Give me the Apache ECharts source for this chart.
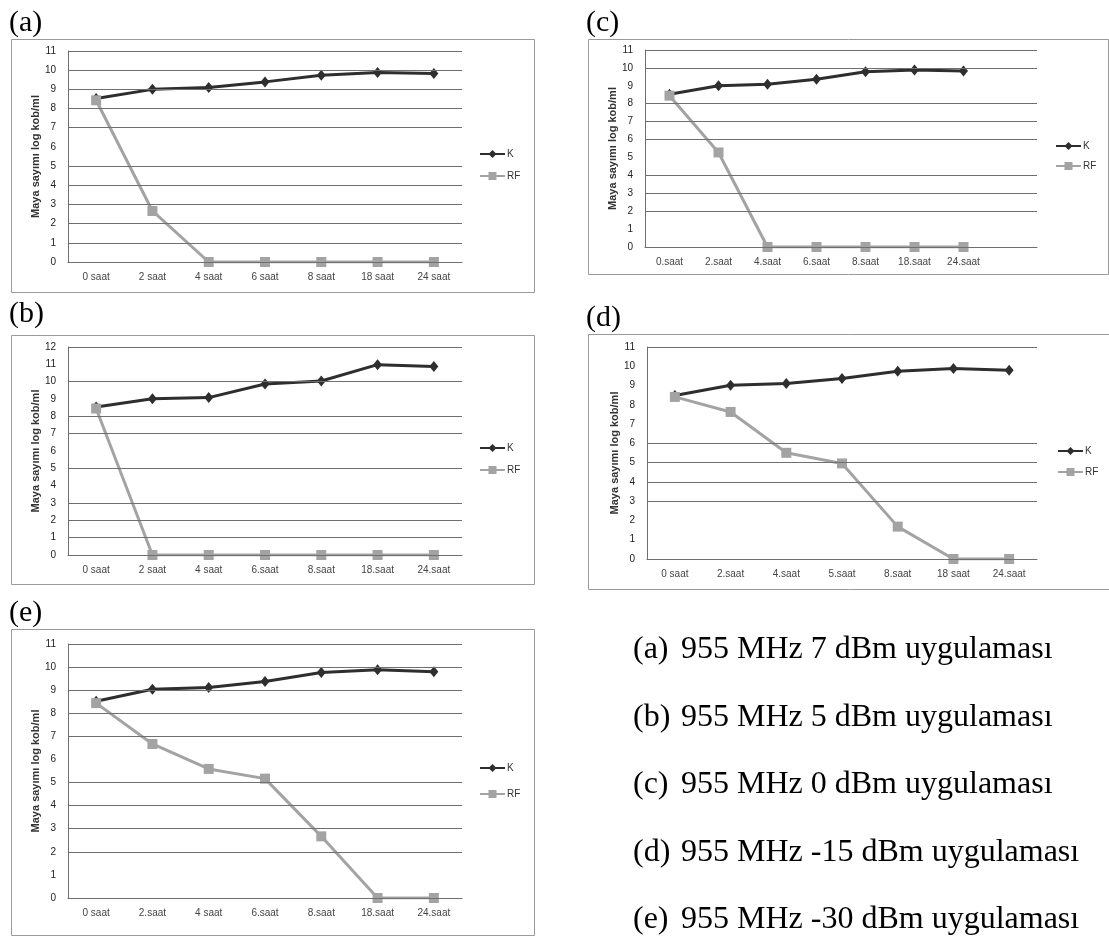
<!DOCTYPE html>
<html>
<head>
<meta charset="utf-8">
<script src="https://cdn.jsdelivr.net/npm/echarts@6/dist/echarts.min.js"></script>
<style>
  html, body { margin: 0; padding: 0; background: #fff; }
  #chart { width: 1109px; height: 942px; }
</style>
</head>
<body>
<div id="chart"></div>
<script>
// sampling times printed under each panel (c has one empty slot at the end)
const catsA = ["0 saat", "2 saat", "4 saat", "6 saat", "8 saat", "18 saat", "24 saat"];
const catsB = ["0 saat", "2 saat", "4 saat", "6.saat", "8.saat", "18.saat", "24.saat"];
const catsC = ["0.saat", "2.saat", "4.saat", "6.saat", "8.saat", "18.saat", "24.saat", ""];
const catsD = ["0 saat", "2.saat", "4.saat", "5.saat", "8.saat", "18 saat", "24.saat"];
const catsE = ["0 saat", "2.saat", "4 saat", "6.saat", "8.saat", "18.saat", "24.saat"];

// yeast count, log kob/ml : K = control, RF = treated
const kA = [8.52, 9.0, 9.1, 9.39, 9.74, 9.88, 9.83];
const rfA = [8.43, 2.66, 0, 0, 0, 0, 0];
const kB = [8.54, 9.02, 9.08, 9.87, 10.04, 10.98, 10.87];
const rfB = [8.45, 0, 0, 0, 0, 0, 0];
const kC = [8.53, 9.0, 9.09, 9.37, 9.78, 9.89, 9.83];
const rfC = [8.45, 5.28, 0, 0, 0, 0, 0];
const kD = [8.48, 9.02, 9.1, 9.36, 9.74, 9.88, 9.79];
const rfD = [8.41, 7.63, 5.51, 4.96, 1.68, 0, 0];
const kE = [8.52, 9.04, 9.12, 9.38, 9.77, 9.89, 9.8];
const rfE = [8.44, 6.67, 5.59, 5.17, 2.67, 0, 0];

const yMaxA = 11, yMaxB = 12, yMaxC = 11, yMaxD = 11, yMaxE = 11;

// horizontal grid lines that are actually visible in the scanned figure
const gridLinesA = [11, 10, 9, 8, 7, 5, 4, 3, 2, 1, 0];
const gridLinesB = [12, 10, 8, 7, 5, 3, 2, 1, 0];
const gridLinesC = [11, 10, 8, 7, 6, 4, 3, 2, 0];
const gridLinesD = [11, 6, 5, 4, 3, 0];
const gridLinesE = [11, 10, 9, 8, 7, 5, 4, 3, 2, 0];

const seriesNames = ["K", "RF"];
const yName = "Maya sayımı log kob/ml";

const panelLabels = ["(a)", "(b)", "(c)", "(d)", "(e)"];
const captionTags = ["(a)", "(b)", "(c)", "(d)", "(e)"];
const captionTexts = [
  "955 MHz 7 dBm uygulaması",
  "955 MHz 5 dBm uygulaması",
  "955 MHz 0 dBm uygulaması",
  "955 MHz -15 dBm uygulaması",
  "955 MHz -30 dBm uygulaması",
];

const panels = [
  {cats: catsA, k: kA, rf: rfA, yMax: yMaxA, lines: gridLinesA},
  {cats: catsB, k: kB, rf: rfB, yMax: yMaxB, lines: gridLinesB},
  {cats: catsC, k: kC, rf: rfC, yMax: yMaxC, lines: gridLinesC},
  {cats: catsD, k: kD, rf: rfD, yMax: yMaxD, lines: gridLinesD},
  {cats: catsE, k: kE, rf: rfE, yMax: yMaxE, lines: gridLinesE},
];

// page layout, pixels
const layout = [
  {box: [11, 39, 523, 253], grid: [68, 51, 394, 211], legend: [479, 149, 12], label: [9, 23]},
  {box: [11, 335, 523, 249], grid: [68, 347, 394, 208], legend: [479, 443, 12], label: [9, 314]},
  {box: [588, 39, 520, 235], grid: [645, 50, 392, 197], legend: [1055, 141, 10], label: [586, 23]},
  {box: [588, 334, 525, 255], grid: [647, 347, 390, 212], legend: [1057, 446, 11], label: [586, 318]},
  {box: [11, 629, 523, 306], grid: [68, 644, 394, 254], legend: [479, 763, 16], label: [9, 613]},
];
const captionX = 633;
const captionTextX = 681;
const captionY = [650, 718, 785, 853, 920];

const axisColor = "#6f6f6f";
const labelFont = "Liberation Sans";
const serifFont = "Liberation Serif";

const grid = [];
const xAxis = [];
const yAxis = [];
const legend = [];
const series = [];
const graphic = [];

panels.forEach((p, i) => {
  const lay = layout[i];
  grid.push({left: lay.grid[0], top: lay.grid[1], width: lay.grid[2], height: lay.grid[3]});
  xAxis.push({
    type: "category",
    gridIndex: i,
    data: p.cats,
    boundaryGap: true,
    axisLine: {show: true, lineStyle: {color: axisColor, width: 1}},
    axisTick: {show: false},
    axisLabel: {interval: 0, margin: 10, fontSize: 10, color: "#444", fontFamily: labelFont},
    splitLine: {show: false},
  });
  yAxis.push({
    type: "value",
    gridIndex: i,
    min: 0,
    max: p.yMax,
    interval: 1,
    name: yName,
    nameLocation: "middle",
    nameGap: 26,
    nameTextStyle: {fontSize: 11, fontWeight: "bold", color: "#333", fontFamily: labelFont},
    axisLine: {show: true, lineStyle: {color: axisColor, width: 1}},
    axisTick: {show: false},
    axisLabel: {margin: 12, fontSize: 10, color: "#222", fontFamily: labelFont},
    splitLine: {show: false},
  });
  legend.push({
    orient: "vertical",
    left: lay.legend[0],
    top: lay.legend[1],
    padding: 0,
    itemGap: lay.legend[2],
    itemWidth: 25,
    itemHeight: 10,
    data: seriesNames,
    textStyle: {fontSize: 10, color: "#333", fontFamily: labelFont, padding: [0, 0, 0, -3]},
    selectedMode: false,
  });
  series.push({
    name: "grid" + i,
    type: "line",
    xAxisIndex: i,
    yAxisIndex: i,
    data: [],
    z: 1,
    silent: true,
    markLine: {
      silent: true,
      symbol: ["none", "none"],
      label: {show: false},
      lineStyle: {color: axisColor, width: 1, type: "solid"},
      emphasis: {disabled: true},
      data: p.lines.map((v) => ({yAxis: v})),
    },
  });
  series.push({
    name: seriesNames[0],
    type: "line",
    xAxisIndex: i,
    yAxisIndex: i,
    data: p.k,
    z: 3,
    symbol: "diamond",
    symbolSize: [9, 11],
    itemStyle: {color: "#2e2e2e"},
    lineStyle: {color: "#2e2e2e", width: 3},
  });
  series.push({
    name: seriesNames[1],
    type: "line",
    xAxisIndex: i,
    yAxisIndex: i,
    data: p.rf,
    z: 4,
    symbol: "rect",
    symbolSize: 10,
    itemStyle: {color: "#a3a3a3"},
    lineStyle: {color: "#a3a3a3", width: 3},
  });

  graphic.push({
    type: "rect",
    silent: true,
    z: -1,
    shape: {x: lay.box[0] + 0.5, y: lay.box[1] + 0.5, width: lay.box[2], height: lay.box[3]},
    style: {fill: "none", stroke: "#9a9a9a", lineWidth: 1},
  });
  graphic.push({
    type: "text",
    silent: true,
    x: lay.label[0],
    y: lay.label[1],
    style: {text: panelLabels[i], font: "30px '" + serifFont + "'", fill: "#000", textVerticalAlign: "middle"},
  });
});

captionTexts.forEach((t, i) => {
  graphic.push({
    type: "text",
    silent: true,
    x: captionX,
    y: captionY[i],
    style: {text: captionTags[i], font: "32px '" + serifFont + "'", fill: "#000", textVerticalAlign: "middle"},
  });
  graphic.push({
    type: "text",
    silent: true,
    x: captionTextX,
    y: captionY[i],
    style: {text: t, font: "32px '" + serifFont + "'", fill: "#000", textVerticalAlign: "middle"},
  });
});

const chart = echarts.init(document.getElementById("chart"), null, {renderer: "canvas"});
chart.setOption({
  animation: false,
  backgroundColor: "#fff",
  grid: grid,
  xAxis: xAxis,
  yAxis: yAxis,
  legend: legend,
  series: series,
  graphic: graphic,
});
</script>
</body>
</html>
